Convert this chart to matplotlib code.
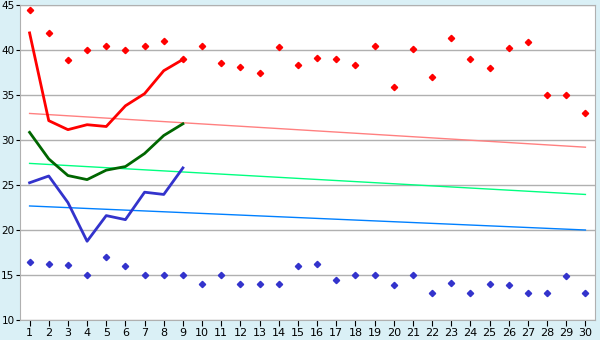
import numpy as np
import matplotlib
matplotlib.use("Agg")
import matplotlib.pyplot as plt

days = list(range(1, 31))

# scatter points (daily highs / lows)
high_pts = [44.4, 41.85, 38.85, 40.0, 40.5, 40.0, 40.5, 40.95, 39.0, 40.4,
            38.6, 38.1, 37.5, 40.3, 38.3, 39.1, 38.95, 38.3, 40.5, 35.85,
            40.1, 37.0, 41.3, 38.95, 37.95, 40.2, 40.85, 35.0, 35.0, 32.95]
low_pts = [16.5, 16.25, 16.15, 15.0, 16.95, 15.95, 15.0, 15.0, 15.0, 14.0,
           15.0, 14.0, 14.0, 14.0, 16.0, 16.2, 14.5, 15.0, 15.0, 13.85,
           15.0, 13.0, 14.1, 13.0, 14.0, 13.85, 13.0, 13.0, 14.85, 13.0]

# lines for the first nine days
line_days = list(range(1, 10))
red_line = [41.9, 32.15, 31.15, 31.7, 31.5, 33.8, 35.15, 37.7, 38.95]
green_line = [30.85, 27.9, 26.05, 25.6, 26.65, 27.05, 28.5, 30.5, 31.8]
blue_line = [25.25, 26.0, 23.05, 18.75, 21.6, 21.15, 24.2, 23.95, 26.9]

# trend lines (start / end values)
trend_x = [1, 30]
red_trend = [32.95, 29.2]
green_trend = [27.4, 23.95]
blue_trend = [22.67, 20.0]

bg = "#daf0f6"
fig = plt.figure(figsize=(6, 3.4), dpi=100, facecolor=bg)
ax = fig.add_axes([20 / 600, 1 - 320 / 340, 575 / 600, 315 / 340])
ax.set_facecolor("white")

ax.plot(trend_x, red_trend, color="#ff8080", lw=1)
ax.plot(trend_x, green_trend, color="#00ff80", lw=1)
ax.plot(trend_x, blue_trend, color="#0080ff", lw=1)

ax.plot(line_days, red_line, color="#ff0000", lw=2)
ax.plot(line_days, green_line, color="#006600", lw=2)
ax.plot(line_days, blue_line, color="#3333cc", lw=2)

ax.plot(days, high_pts, ls="none", marker="D", ms=3.2, color="#ff0000")
ax.plot(days, low_pts, ls="none", marker="D", ms=3.2, color="#3333cc")

ax.set_xlim(0.5, 30.5)
ax.set_ylim(10, 45)
ax.set_xticks(days)
ax.set_yticks(range(10, 46, 5))
ax.yaxis.grid(True, color="#b0b0b0", lw=1)
ax.set_axisbelow(True)
for s in ax.spines.values():
    s.set_color("#b0b0b0")
ax.tick_params(axis="x", labelsize=8, color="black", length=4, pad=2, width=0.8)
ax.tick_params(axis="y", labelsize=7.5, color="black", length=3, pad=1, width=0.8)

fig.savefig("out.png", dpi=100, facecolor=bg)
